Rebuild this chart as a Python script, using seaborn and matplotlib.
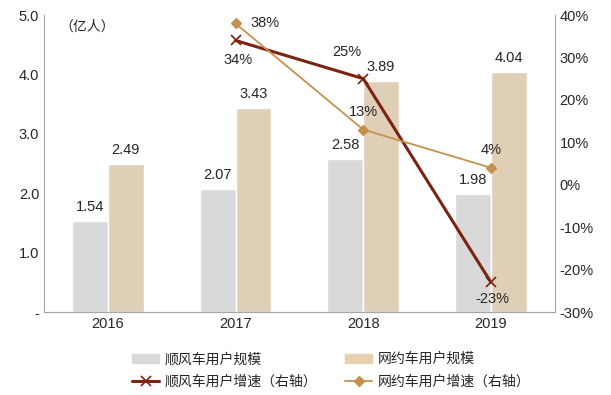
import matplotlib
matplotlib.use('Agg')
from matplotlib import pyplot as plt
import seaborn as sns
import pandas as pd

# chart data
years = ['2016', '2017', '2018', '2019']
hitch_users = [1.54, 2.07, 2.58, 1.98]
ride_users = [2.49, 3.43, 3.89, 4.04]
growth_years = ['2017', '2018', '2019']
hitch_growth = [34, 25, -23]
ride_growth = [38, 13, 4]

bar_names = ['顺风车用户规模', '网约车用户规模']
line_names = ['顺风车用户增速（右轴）', '网约车用户增速（右轴）']

grey = '#D9D9D9'
tan = '#E6D0B0'
dark_red = '#7B2210'
gold = '#C4924F'

sns.set_style('white')
plt.rcParams['font.family'] = ['Noto Sans CJK SC', 'DejaVu Sans']
plt.rcParams['axes.unicode_minus'] = False

df = pd.DataFrame({
    'year': years * 2,
    'value': hitch_users + ride_users,
    'series': [bar_names[0]] * 4 + [bar_names[1]] * 4,
})

fig = plt.figure(figsize=(6.11, 3.95), dpi=100)
ax = fig.add_axes([0.072, 0.21, 0.836, 0.752])

sns.barplot(data=df, x='year', y='value', hue='series', palette=[grey, tan],
            width=0.56, gap=0, ax=ax, legend=False)

for cont in ax.containers:
    ax.bar_label(cont, fmt='%.2f', padding=5, fontsize=10.5, family='Liberation Sans')

ax.set_xlim(-0.5, 3.5)
ax.set_ylim(0, 5)
ax.set_yticks([0, 1, 2, 3, 4, 5])
ax.set_yticklabels(['-', '1.0', '2.0', '3.0', '4.0', '5.0'])
ax.set_xlabel('')
ax.set_ylabel('')
ax.text(0.03, 0.985, '（亿人）', transform=ax.transAxes, fontsize=10, va='top', ha='left')

ax2 = ax.twinx()
xpos = [years.index(y) for y in growth_years]
ax2.plot(xpos, hitch_growth, color=dark_red, lw=2.2, marker='x', ms=7, mew=1.2)
ax2.plot(xpos, ride_growth, color=gold, lw=1.3, marker='D', ms=5)
ax2.set_ylim(-30, 40)
ax2.set_yticks(range(-30, 41, 10))
ax2.set_yticklabels([f'{v}%' for v in range(-30, 41, 10)])

# growth labels, offsets in pixels from the point
lab = dict(fontsize=10.5, family='Liberation Sans', ha='center', va='center',
           textcoords='offset pixels')
ax2.annotate('34%', (xpos[0], hitch_growth[0]), xytext=(2, -20), **lab)
ax2.annotate('25%', (xpos[1], hitch_growth[1]), xytext=(-16, 27), **lab)
ax2.annotate('-23%', (xpos[2], hitch_growth[2]), xytext=(1, -17), **lab)
ax2.annotate('38%', (xpos[0], ride_growth[0]), xytext=(29, 0), **lab)
ax2.annotate('13%', (xpos[1], ride_growth[1]), xytext=(0, 18), **lab)
ax2.annotate('4%', (xpos[2], ride_growth[2]), xytext=(0, 18), **lab)

for a in (ax, ax2):
    for s in a.spines.values():
        s.set_color('#A6A6A6')
    a.spines['top'].set_visible(False)
    a.tick_params(length=0, labelsize=10.5)
    for t in a.get_xticklabels() + a.get_yticklabels():
        t.set_family('Liberation Sans')
ax.spines['right'].set_visible(False)
ax2.spines['left'].set_visible(False)

# legend
from matplotlib.patches import Patch
from matplotlib.lines import Line2D
handles = [
    Patch(color=grey),
    Line2D([], [], color=dark_red, lw=2.2, marker='x', ms=7, mew=1.2),
    Patch(color=tan),
    Line2D([], [], color=gold, lw=1.3, marker='D', ms=5),
]
labels = [bar_names[0], line_names[0], bar_names[1], line_names[1]]
fig.legend(handles, labels, ncol=2, loc='lower left', bbox_to_anchor=(0.195, -0.015),
           frameon=False, fontsize=10, handlelength=2.0, handleheight=0.6,
           columnspacing=2.0, labelspacing=0.6, handletextpad=0.35)

fig.savefig('out.png', dpi=100)
